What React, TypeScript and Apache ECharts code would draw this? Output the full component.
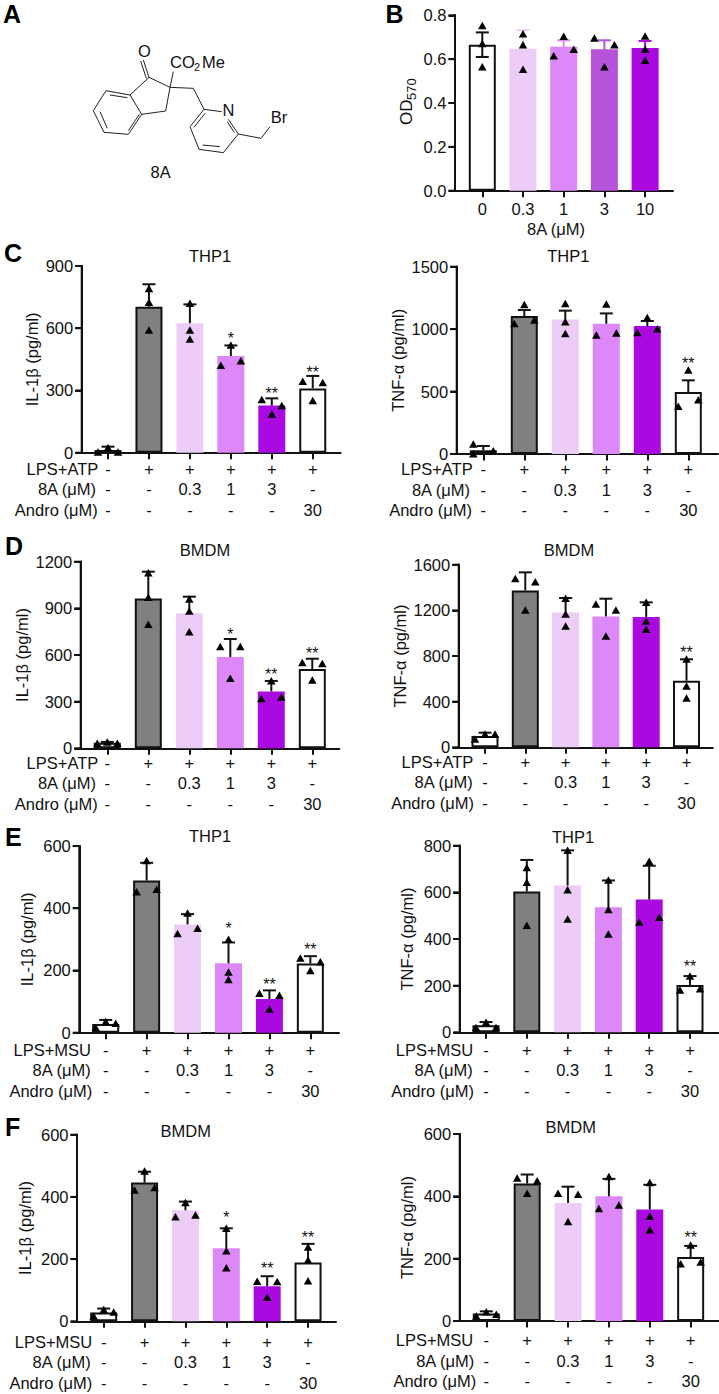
import React, { useEffect, useRef } from "react";
import * as echarts from "echarts";

const FONT = "'Liberation Sans', Arial, sans-serif";
const FS = 16.5;
const WHITE = "#ffffff";
const GREY = "#808080";
const PALE = "#EECCF8";
const MID = "#DD88F8";
const ORCHID = "#B554D8";
const PURPLE = "#AA0AE0";

// Treatment rows under panels C-F
const lpsRow = ["-", "+", "+", "+", "+", "+"];
const eightARow = ["-", "-", "0.3", "1", "3", "-"];
const androRow = ["-", "-", "-", "-", "-", "30"];
const doseLabels = ["0", "0.3", "1", "3", "10"];

// A point is [jitter slot (-1 left, 0 centre, 1 right), value]
type Pt = [number, number];

// Panel B
const bMeans = [0.666, 0.648, 0.657, 0.645, 0.651];
const bUpper = [0.722, 0.732, 0.686, 0.686, 0.683];
const bPoints: Pt[][] = [
  [[0, 0.754], [0, 0.671], [0, 0.565]],
  [[0, 0.716], [0, 0.666], [0, 0.554]],
  [[0, 0.704], [1, 0.645], [-1, 0.615]],
  [[-1, 0.697], [1, 0.666], [0, 0.565]],
  [[0, 0.706], [0, 0.645], [0, 0.595]],
];

// Panel C, IL-1b
const cIlMeans = [13, 704, 624, 466, 227, 310];
const cIlUpper = [29, 812, 715, 517, 262, 370];
const cIlStars = [null, null, null, 567, 299, 403];
const cIlPoints: Pt[][] = [
  [[-1, 3], [0, 25], [1, 3]],
  [[0, 792], [0, 725], [0, 591]],
  [[0, 720], [0, 591], [0, 548]],
  [[-1, 421], [0, 519], [1, 443]],
  [[-1, 257], [0, 186], [1, 228]],
  [[-1, 345], [0, 252], [1, 339]],
];

// Panel C, TNF-a
const cTnfMeans = [30, 1105, 1078, 1043, 1025, 496];
const cTnfUpper = [64, 1153, 1148, 1126, 1065, 590];
const cTnfStars = [null, null, null, null, null, 747];
const cTnfPoints: Pt[][] = [
  [[-1, 80], [-1, 3], [1, 27]],
  [[0, 1198], [-1, 1046], [1, 1073]],
  [[0, 1206], [0, 1060], [0, 966]],
  [[0, 1201], [-1, 953], [1, 969]],
  [[0, 1094], [-1, 974], [1, 1003]],
  [[0, 673], [-1, 382], [1, 435]],
];

// Panel D, IL-1b
const dIlMeans = [36, 964, 868, 587, 366, 510];
const dIlUpper = [41, 1136, 975, 703, 433, 576];
const dIlStars = [null, null, null, 754, 497, 628];
const dIlPoints: Pt[][] = [
  [[-1, 32], [0, 41], [1, 32]],
  [[0, 1129], [0, 971], [0, 797]],
  [[0, 960], [0, 883], [0, 750]],
  [[-1, 654], [0, 450], [1, 654]],
  [[0, 435], [-1, 321], [1, 330]],
  [[-1, 551], [1, 546], [0, 439]],
];

// Panel D, TNF-a
const dTnfMeans = [99, 1375, 1182, 1147, 1142, 584];
const dTnfUpper = [128, 1533, 1308, 1302, 1270, 771];
const dTnfStars = [null, null, null, null, null, 858];
const dTnfPoints: Pt[][] = [
  [[-1, 73], [0, 117], [1, 117]],
  [[-1, 1480], [1, 1451], [0, 1203]],
  [[0, 1305], [0, 1168], [0, 1063]],
  [[-1, 1255], [1, 1203], [0, 975]],
  [[0, 1270], [0, 1107], [0, 1034]],
  [[0, 774], [0, 537], [0, 432]],
];

// Panel E, IL-1b
const eIlMeans = [28, 489, 348, 223, 108, 222];
const eIlUpper = [41, 546, 381, 290, 136, 246];
const eIlStars = [null, null, null, 344, 166, 278];
const eIlPoints: Pt[][] = [
  [[-1, 17], [0, 36], [1, 30]],
  [[0, 553], [-1, 453], [1, 461]],
  [[0, 385], [-1, 319], [1, 336]],
  [[0, 300], [0, 195], [0, 171]],
  [[-1, 127], [1, 120], [0, 76]],
  [[-1, 240], [1, 228], [0, 200]],
];

// Panel E, TNF-a
const eTnfMeans = [30, 604, 629, 536, 569, 203];
const eTnfUpper = [44, 739, 780, 651, 714, 241];
const eTnfStars = [null, null, null, null, null, 294];
const eTnfPoints: Pt[][] = [
  [[-1, 21], [0, 43], [1, 21]],
  [[0, 707], [0, 643], [0, 459]],
  [[0, 781], [0, 611], [0, 486]],
  [[0, 653], [0, 527], [0, 421]],
  [[0, 733], [-1, 473], [1, 493]],
  [[0, 241], [-1, 181], [1, 187]],
];

// Panel F, IL-1b
const fIlMeans = [28, 446, 357, 235, 113, 189];
const fIlUpper = [41, 481, 385, 299, 145, 249];
const fIlStars = [null, null, null, 345, 178, 279];
const fIlPoints: Pt[][] = [
  [[-1, 17], [0, 38], [1, 30]],
  [[0, 483], [-1, 422], [1, 430]],
  [[0, 382], [-1, 336], [1, 342]],
  [[0, 299], [0, 227], [0, 172]],
  [[-1, 129], [1, 128], [0, 77]],
  [[0, 239], [0, 197], [0, 130]],
];

// Panel F, TNF-a
const fTnfMeans = [24, 441, 379, 400, 358, 205];
const fTnfUpper = [31, 470, 431, 456, 437, 241];
const fTnfStars = [null, null, null, null, null, 276];
const fTnfPoints: Pt[][] = [
  [[-1, 16], [0, 30], [1, 22]],
  [[-1, 459], [1, 450], [0, 410]],
  [[-1, 410], [1, 407], [0, 319]],
  [[0, 464], [-1, 361], [1, 372]],
  [[0, 444], [0, 336], [0, 293]],
  [[0, 244], [-1, 184], [1, 189]],
];

const treatColors = [WHITE, GREY, PALE, MID, PURPLE, WHITE];
const treatBorders = ["#111", "#111", PALE, MID, PURPLE, "#111"];
const doseColors = [WHITE, PALE, MID, ORCHID, PURPLE];
const doseBorders = ["#111", PALE, MID, ORCHID, PURPLE];

type Panel = {
  title?: string; titleX?: number; titleY?: number;
  yName?: string; yMax: number; yStep: number; yDigits?: number;
  left: number; right: number; top: number; bottom: number;
  c0: number; sp: number; nameGap: number; labelMargin: number;
  means: number[]; upper: number[]; stars?: (number | null)[]; points: Pt[][];
  stim?: string; rowRight?: number[]; dose?: boolean;
};

const IL = "IL-1β (pg/ml)";
const TNF = "TNF-α (pg/ml)";
const panels: Panel[] = [
  { yMax: 0.8, yStep: 0.2, yDigits: 1, left: 455, right: 673, top: 15.3, bottom: 190.7, c0: 482.3, sp: 40.7, nameGap: 38, labelMargin: 8, means: bMeans, upper: bUpper, points: bPoints, dose: true },
  { title: "THP1", titleX: 210, titleY: 255.7, yName: IL, yMax: 900, yStep: 300, left: 81.7, right: 340.7, top: 266, bottom: 452.7, c0: 108, sp: 40.95, nameGap: 41, labelMargin: 6, means: cIlMeans, upper: cIlUpper, stars: cIlStars, points: cIlPoints, stim: "LPS+ATP", rowRight: [98.3, 96, 97.7] },
  { title: "THP1", titleX: 568.3, titleY: 256, yName: TNF, yMax: 1500, yStep: 500, left: 456.7, right: 718, top: 266.7, bottom: 454, c0: 483.3, sp: 41, nameGap: 50, labelMargin: 5, means: cTnfMeans, upper: cTnfUpper, stars: cTnfStars, points: cTnfPoints, stim: "LPS+ATP", rowRight: [472.7, 470, 472] },
  { title: "BMDM", titleX: 205, titleY: 550, yName: IL, yMax: 1200, yStep: 300, left: 80.7, right: 339.3, top: 561.7, bottom: 748.3, c0: 107.3, sp: 41, nameGap: 50, labelMargin: 4, means: dIlMeans, upper: dIlUpper, stars: dIlStars, points: dIlPoints, stim: "LPS+ATP", rowRight: [98.3, 96, 97.7] },
  { title: "BMDM", titleX: 569, titleY: 550, yName: TNF, yMax: 1600, yStep: 400, left: 458.7, right: 712.7, top: 564.7, bottom: 747.3, c0: 485, sp: 40.3, nameGap: 50, labelMargin: 4, means: dTnfMeans, upper: dTnfUpper, stars: dTnfStars, points: dTnfPoints, stim: "LPS+ATP", rowRight: [473.3, 472.7, 474] },
  { title: "THP1", titleX: 210, titleY: 836, yName: IL, yMax: 600, yStep: 200, left: 79.3, right: 339, top: 846, bottom: 1032.7, c0: 105.7, sp: 40.93, nameGap: 44, labelMargin: 7, means: eIlMeans, upper: eIlUpper, stars: eIlStars, points: eIlPoints, stim: "LPS+MSU", rowRight: [91, 90.7, 92.3] },
  { title: "THP1", titleX: 573, titleY: 836.7, yName: TNF, yMax: 800, yStep: 200, left: 459.7, right: 718.3, top: 845.7, bottom: 1032.3, c0: 486, sp: 40.8, nameGap: 44, labelMargin: 7, means: eTnfMeans, upper: eTnfUpper, stars: eTnfStars, points: eTnfPoints, stim: "LPS+MSU", rowRight: [473.3, 472.7, 474] },
  { title: "BMDM", titleX: 185.7, titleY: 1130.7, yName: IL, yMax: 600, yStep: 200, left: 77, right: 336, top: 1134.7, bottom: 1321.3, c0: 103.7, sp: 40.87, nameGap: 44, labelMargin: 10, means: fIlMeans, upper: fIlUpper, stars: fIlStars, points: fIlPoints, stim: "LPS+MSU", rowRight: [92.3, 90.7, 92.3] },
  { title: "BMDM", titleX: 570.7, titleY: 1127.3, yName: TNF, yMax: 600, yStep: 200, left: 459.7, right: 719, top: 1134, bottom: 1321, c0: 486.3, sp: 40.87, nameGap: 44, labelMargin: 9, means: fTnfMeans, upper: fTnfUpper, stars: fTnfStars, points: fTnfPoints, stim: "LPS+MSU", rowRight: [473.3, 474.3, 476.3] },
];

const letters: [string, number, number][] = [
  ["A", 3, 14], ["B", 385.5, 14], ["C", 4, 253], ["D", 5, 546], ["E", 5, 836.7], ["F", 5, 1126.7],
];

// Structure of compound 8A, in thirds of a pixel
const bonds: number[][] = [
  [318, 272, 390, 285], [390, 285, 425, 343], [425, 343, 385, 403], [385, 403, 312, 397], [312, 397, 280, 332], [280, 332, 318, 272],
  [330, 285, 382, 293], [418, 343, 385, 392], [300, 335, 322, 385],
  [390, 285, 447, 232], [447, 232, 510, 262], [510, 262, 497, 333], [497, 333, 425, 343],
  [447, 232, 430, 180], [439, 235, 422, 183],
  [510, 262, 520, 215], [510, 262, 580, 265], [580, 265, 612, 328],
  [612, 328, 665, 335], [685, 358, 715, 402], [715, 402, 670, 458], [670, 458, 597, 448], [597, 448, 570, 380], [570, 380, 612, 328],
  [682, 365, 703, 398], [660, 440, 608, 435], [582, 382, 615, 340],
  [715, 402, 783, 415], [783, 415, 810, 380],
];

const txt = (text: string, x: number, y: number, extra: any = {}, node: any = {}) => ({
  type: "text", x, y, silent: true, z: 20, ...node,
  style: { text, fontFamily: FONT, fontSize: FS, fill: "#111", textVerticalAlign: "middle", ...extra },
});

function buildOption() {
  const grid: any[] = [], xAxis: any[] = [], yAxis: any[] = [], series: any[] = [], title: any[] = [];
  const graphic: any[] = [];

  panels.forEach((p, i) => {
    const n = p.means.length;
    const cols = p.dose ? doseColors : treatColors;
    const bords = p.dose ? doseBorders : treatBorders;
    const xMin = (p.left - p.c0) / p.sp;
    grid.push({ left: p.left, top: p.top, width: p.right - p.left, height: p.bottom - p.top });
    const ticks = Array.from({ length: n }, (_, k) => k);
    xAxis.push({
      gridIndex: i, type: "value",
      min: xMin, max: (p.right - p.c0) / p.sp,
      splitLine: { show: false },
      axisLine: { show: true, onZero: false, lineStyle: { color: "#111", width: 2 } },
      axisTick: { show: true, length: 6.5, customValues: ticks, lineStyle: { color: "#111", width: 2 } },
      axisLabel: {
        show: true, customValues: ticks, margin: p.labelMargin, fontFamily: FONT, fontSize: FS, color: "#111", lineHeight: 20.5,
        formatter: (v: number) => {
          const k = Math.round(v);
          return p.dose ? doseLabels[k] : [lpsRow[k], eightARow[k], androRow[k]].join("\n");
        },
      },
      ...(p.dose
        ? { name: "8A (μM)", nameLocation: "middle", nameGap: 28, nameTextStyle: { fontFamily: FONT, fontSize: FS, color: "#111", padding: [0, 16, 0, 0] } }
        : {}),
    });
    yAxis.push({
      gridIndex: i, type: "value", min: 0, max: p.yMax, interval: p.yStep,
      splitLine: { show: false },
      axisLine: { show: true, onZero: false, lineStyle: { color: "#111", width: 2 } },
      axisTick: { show: true, length: 6.5, lineStyle: { color: "#111", width: 2 } },
      axisLabel: {
        margin: 8.5, fontFamily: FONT, fontSize: FS, color: "#111",
        formatter: (v: number) => (p.yDigits ? v.toFixed(p.yDigits) : String(v)),
      },
      ...(p.yName
        ? { name: p.yName, nameLocation: "middle", nameGap: p.nameGap, nameTextStyle: { fontFamily: FONT, fontSize: FS, color: "#111" } }
        : {}),
    });

    // The value axis's line and ticks, drawn through the axis scale
    const yTicks: number[] = [];
    for (let t = 0; t <= Math.round(p.yMax / p.yStep); t++) yTicks.push(t * p.yStep);
    series.push({
      type: "custom", xAxisIndex: i, yAxisIndex: i, z: 6, silent: true, clip: false,
      encode: { x: 0, y: 1 },
      data: yTicks.map((v) => [xMin, v]),
      renderItem: (_: any, api: any) => {
        const [x, y] = api.coord([api.value(0), api.value(1)]);
        const st = { stroke: "#111", lineWidth: 2, fill: "none" };
        const children: any[] = [{ type: "line", shape: { x1: x - 6.5, y1: y, x2: x, y2: y }, style: st }];
        if (api.value(1) === 0) {
          const [, yTop] = api.coord([api.value(0), p.yMax]);
          children.push({ type: "line", shape: { x1: x, y1: y + 1, x2: x, y2: yTop - 1 }, style: st });
        }
        return { type: "group", children };
      },
    });

    series.push({
      type: "bar", xAxisIndex: i, yAxisIndex: i, barWidth: 27, z: 2, silent: true,
      data: p.means.map((v, k) => ({
        value: [k, v],
        itemStyle: { color: cols[k], borderColor: bords[k], borderWidth: 2 },
      })),
    });
    series.push({
      type: "custom", xAxisIndex: i, yAxisIndex: i, z: 3, silent: true, clip: false,
      encode: { x: 0, y: 1 },
      data: p.upper.map((u, k) => [k, u, p.means[k]]),
      renderItem: (_: any, api: any) => {
        const k = api.value(0), u = api.value(1), m = api.value(2);
        const lo = p.dose ? 2 * m - u : m;
        const [x, yU] = api.coord([k, u]);
        const [, yL] = api.coord([k, lo]);
        const stroke = p.dose ? (k === 0 ? "#111" : cols[k]) : "#111";
        const st = { stroke, lineWidth: 2, fill: "none" };
        const children: any[] = [
          { type: "line", shape: { x1: x, y1: yU, x2: x, y2: yL }, style: st },
          { type: "line", shape: { x1: x - 6.5, y1: yU, x2: x + 6.5, y2: yU }, style: st },
        ];
        if (p.dose) children.push({ type: "line", shape: { x1: x - 6.5, y1: yL, x2: x + 6.5, y2: yL }, style: st });
        return { type: "group", children };
      },
    });
    series.push({
      type: "scatter", xAxisIndex: i, yAxisIndex: i, z: 4, silent: true, clip: false,
      symbol: "triangle", symbolSize: [8.5, 7.5], itemStyle: { color: "#000", opacity: 1 },
      data: p.points.flatMap((pts, k) => pts.map(([slot, v]) => [k + (slot * 10) / p.sp, v])),
    });
    if (p.stars) {
      const starCount = p.stars.filter((s) => s != null).length;
      series.push({
        type: "custom", xAxisIndex: i, yAxisIndex: i, z: 5, silent: true, clip: false,
        encode: { x: 0, y: 1 },
        data: p.stars.flatMap((v, k) => (v == null ? [] : [[k, v, k === 3 && starCount === 3 ? 1 : 2]])),
        renderItem: (_: any, api: any) => {
          const [x, y] = api.coord([api.value(0), api.value(1)]);
          return {
            type: "text", x, y: y + 3,
            style: {
              text: "*".repeat(api.value(2)), fontFamily: FONT, fontSize: 16, fill: "#111",
              textAlign: "center", textVerticalAlign: "middle",
            },
          };
        },
      });
    }

    if (p.title) {
      title.push({
        text: p.title, left: p.titleX, top: p.titleY! - 8, padding: 0, textAlign: "center",
        textStyle: { fontFamily: FONT, fontSize: FS, fontWeight: "normal", color: "#111", lineHeight: 16 },
      });
    }
    if (p.stim) {
      const rowNames = [p.stim, "8A (μM)", "Andro (μM)"];
      rowNames.forEach((name, r) => {
        const y = p.bottom + p.labelMargin + 10.25 + 20.5 * r;
        graphic.push(txt(name, p.rowRight![r], y, { textAlign: "right" }));
      });
    }
  });

  letters.forEach(([t, x, y]) => graphic.push(txt(t, x, y, { fontSize: 25, fontWeight: "bold", fill: "#000" })));

  graphic.push(txt("OD", 406.7, 125, { fontSize: 17, textAlign: "left" }, { rotation: Math.PI / 2 }));
  graphic.push(txt("570", 411.5, 100, { fontSize: 13, textAlign: "left" }, { rotation: Math.PI / 2 }));

  bonds.forEach(([a, b, c, d]) =>
    graphic.push({
      type: "line", silent: true, z: 20,
      shape: { x1: a / 3, y1: b / 3, x2: c / 3, y2: d / 3 },
      style: { stroke: "#222", lineWidth: 1, fill: "none" },
    })
  );
  graphic.push(txt("O", 144.3, 51, { textAlign: "center" }));
  graphic.push(txt("CO", 170, 62.3));
  graphic.push(txt("2", 194, 67, { fontSize: 11 }));
  graphic.push(txt("Me", 202, 62.3));
  graphic.push(txt("N", 228.5, 110, { textAlign: "center" }));
  graphic.push(txt("Br", 279, 116.5, { textAlign: "center" }));
  graphic.push(txt("8A", 160.7, 171.7, { textAlign: "center" }));

  return { animation: false, backgroundColor: "#fff", title, grid, xAxis, yAxis, series, graphic: { elements: graphic } };
}

export default function App() {
  const ref = useRef<HTMLDivElement>(null);
  useEffect(() => {
    document.body.style.margin = "0";
    const chart = echarts.init(ref.current!, undefined, { renderer: "svg", width: 719, height: 1394 });
    chart.setOption(buildOption() as any);
    return () => chart.dispose();
  }, []);
  return <div ref={ref} style={{ width: 719, height: 1394, display: "block" }} />;
}
